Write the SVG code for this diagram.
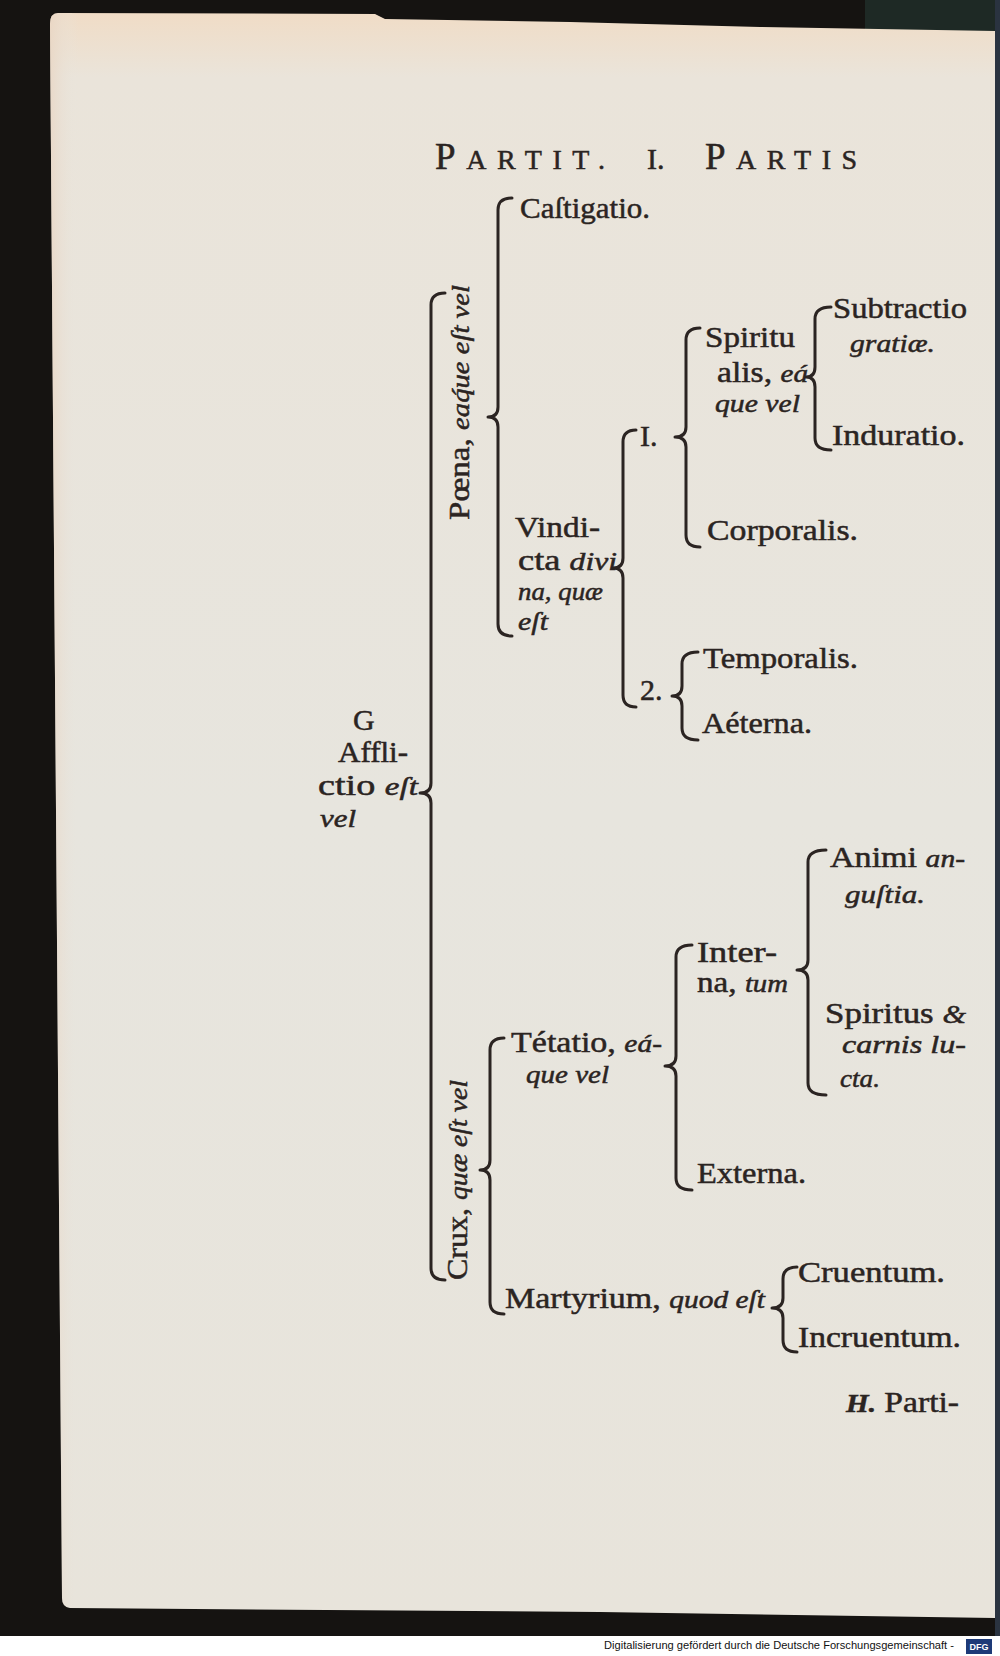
<svg xmlns="http://www.w3.org/2000/svg" width="1000" height="1656" viewBox="0 0 1000 1656">
<defs>
<linearGradient id="paper" x1="0" y1="0" x2="0" y2="1">
<stop offset="0" stop-color="#f0dcc6"/>
<stop offset="0.04" stop-color="#eae4da"/>
<stop offset="0.5" stop-color="#e7e5de"/>
<stop offset="1" stop-color="#e8e4db"/>
</linearGradient>
<linearGradient id="paperL" x1="0" y1="0" x2="1" y2="0">
<stop offset="0" stop-color="#e9d6c4" stop-opacity="0.8"/>
<stop offset="0.03" stop-color="#e8e6df" stop-opacity="0"/>
<stop offset="1" stop-color="#e8e6df" stop-opacity="0"/>
</linearGradient>
<style>
.t{font-family:"Liberation Serif","DejaVu Serif",serif;fill:#2b2422;stroke:#2b2422;stroke-width:0.5;font-size:30px}
.i{font-style:italic;font-size:26px}
.br{fill:none;stroke:#2b2422;stroke-width:3;stroke-linecap:round;stroke-linejoin:round}
.ft{font-family:"Liberation Sans","DejaVu Sans",sans-serif;fill:#111;font-size:11px}
</style>
</defs>

<g id="background">
<rect x="0" y="0" width="1000" height="1656" fill="#151311"/>
<rect x="865" y="0" width="135" height="32" fill="#1e2925"/>
<rect x="995" y="0" width="5" height="1636" fill="#2a3340"/>
<path d="M58,13 L375,14 L385,19 L570,22 L760,27 L995,31 L995,1618 L600,1612 L70,1608 Q62,1607 62,1598 L50,24 Q50,13 58,13 Z" fill="url(#paper)"/>
<path d="M58,13 L375,14 L385,19 L570,22 L760,27 L995,31 L995,1618 L600,1612 L70,1608 Q62,1607 62,1598 L50,24 Q50,13 58,13 Z" fill="url(#paperL)"/>
<rect x="0" y="1636" width="1000" height="20" fill="#ffffff"/>
</g>

<g id="footer">
<text class="ft" x="604" y="1649" textLength="350" lengthAdjust="spacingAndGlyphs">Digitalisierung gefördert durch die Deutsche Forschungsgemeinschaft -</text>
<rect x="966" y="1639" width="26" height="15" fill="#1d3a78"/>
<text x="979" y="1650" text-anchor="middle" font-family="Liberation Sans, sans-serif" font-size="9" font-weight="bold" fill="#ffffff">DFG</text>
</g>

<g id="header">
<text class="t" x="435" y="169" textLength="170" lengthAdjust="spacing"><tspan font-size="37">P</tspan><tspan font-size="28">ARTIT.</tspan></text>
<text class="t" x="647" y="169" font-size="37">I.</text>
<text class="t" x="705" y="169" textLength="152" lengthAdjust="spacing"><tspan font-size="37">P</tspan><tspan font-size="28">ARTIS</tspan></text>
</g>

<g id="connectors">
<path class="br" d="M445,293 Q431,293 431,305 L431,783 Q431,793 420,793 Q431,793 431,803 L431,1268 Q431,1280 445,1280"/>
<path class="br" d="M512,198 Q498,198 498,210 L498,407 Q498,417 488,417 Q498,417 498,427 L498,624 Q498,636 512,636"/>
<path class="br" d="M636,430 Q623,430 623,442 L623,558 Q623,568 613,568 Q623,568 623,578 L623,695 Q623,707 636,707"/>
<path class="br" d="M700,328 Q686,328 686,340 L686,427 Q686,437 675,437 Q686,437 686,447 L686,535 Q686,547 700,547"/>
<path class="br" d="M831,307 Q815,307 815,319 L815,367 Q815,377 806,377 Q815,377 815,387 L815,438 Q815,450 831,450"/>
<path class="br" d="M698,652 Q682,652 682,664 L682,686 Q682,696 672,696 Q682,696 682,706 L682,728 Q682,740 698,740"/>
<path class="br" d="M504,1038 Q490,1038 490,1050 L490,1160 Q490,1170 480,1170 Q490,1170 490,1180 L490,1302 Q490,1314 504,1314"/>
<path class="br" d="M692,945 Q676,945 676,957 L676,1056 Q676,1066 665,1066 Q676,1066 676,1076 L676,1178 Q676,1190 692,1190"/>
<path class="br" d="M826,850 Q808,850 808,862 L808,960 Q808,970 797,970 Q808,970 808,980 L808,1083 Q808,1095 826,1095"/>
<path class="br" d="M797,1267 Q783,1267 783,1279 L783,1298 Q783,1308 772,1308 Q783,1308 783,1318 L783,1340 Q783,1352 797,1352"/>
</g>

<g id="node-afflictio">
<text class="t" x="353" y="730" font-size="26">G</text>
<text class="t" x="338" y="762" textLength="70" lengthAdjust="spacingAndGlyphs">Affli-</text>
<text class="t" x="318" y="795" textLength="100" lengthAdjust="spacingAndGlyphs">ctio <tspan class="i">eſt</tspan></text>
<text class="t i" x="320" y="827" textLength="36" lengthAdjust="spacingAndGlyphs">vel</text>
</g>

<g id="node-poena">
<text class="t" font-size="27" transform="translate(469,520) rotate(-90)" textLength="235" lengthAdjust="spacingAndGlyphs">Pœna, <tspan class="i">eaq́ue eſt vel</tspan></text>
</g>

<g id="node-castigatio">
<text class="t" x="520" y="218" textLength="130" lengthAdjust="spacingAndGlyphs">Caſtigatio.</text>
</g>

<g id="node-vindicta">
<text class="t" x="515" y="537" textLength="85" lengthAdjust="spacingAndGlyphs">Vindi-</text>
<text class="t" x="518" y="570" textLength="99" lengthAdjust="spacingAndGlyphs">cta <tspan class="i">divi</tspan></text>
<text class="t i" x="518" y="600" textLength="85" lengthAdjust="spacingAndGlyphs">na, quæ</text>
<text class="t i" x="518" y="630" textLength="30" lengthAdjust="spacingAndGlyphs">eſt</text>
</g>

<g id="node-1">
<text class="t" x="640" y="446" font-size="24">I.</text>
</g>

<g id="node-spiritualis">
<text class="t" x="705" y="347" textLength="90" lengthAdjust="spacingAndGlyphs">Spiritu</text>
<text class="t" x="717" y="382" textLength="91" lengthAdjust="spacingAndGlyphs">alis, <tspan class="i">eá</tspan></text>
<text class="t i" x="715" y="412" textLength="85" lengthAdjust="spacingAndGlyphs">que vel</text>
</g>

<g id="node-subtractio">
<text class="t" x="833" y="318" textLength="134" lengthAdjust="spacingAndGlyphs">Subtractio</text>
<text class="t i" x="850" y="352" textLength="85" lengthAdjust="spacingAndGlyphs">gratiæ.</text>
</g>

<g id="node-induratio">
<text class="t" x="832" y="445" textLength="133" lengthAdjust="spacingAndGlyphs">Induratio.</text>
</g>

<g id="node-corporalis">
<text class="t" x="707" y="540" textLength="151" lengthAdjust="spacingAndGlyphs">Corporalis.</text>
</g>

<g id="node-2">
<text class="t" x="640" y="700" font-size="24">2.</text>
</g>

<g id="node-temporalis">
<text class="t" x="703" y="668" textLength="155" lengthAdjust="spacingAndGlyphs">Temporalis.</text>
</g>

<g id="node-aeterna">
<text class="t" x="702" y="733" textLength="110" lengthAdjust="spacingAndGlyphs">Aéterna.</text>
</g>

<g id="node-crux">
<text class="t" font-size="28" transform="translate(467,1280) rotate(-90)" textLength="200" lengthAdjust="spacingAndGlyphs">Crux, <tspan class="i">quæ eſt vel</tspan></text>
</g>

<g id="node-tetatio">
<text class="t" x="511" y="1052" textLength="151" lengthAdjust="spacingAndGlyphs">Tétatio, <tspan class="i">eá-</tspan></text>
<text class="t i" x="526" y="1083" textLength="83" lengthAdjust="spacingAndGlyphs">que vel</text>
</g>

<g id="node-interna">
<text class="t" x="697" y="962" textLength="80" lengthAdjust="spacingAndGlyphs">Inter-</text>
<text class="t" x="697" y="992" textLength="91" lengthAdjust="spacingAndGlyphs">na, <tspan class="i">tum</tspan></text>
</g>

<g id="node-animi">
<text class="t" x="830" y="867" textLength="135" lengthAdjust="spacingAndGlyphs">Animi <tspan class="i">an-</tspan></text>
<text class="t i" x="845" y="903" textLength="80" lengthAdjust="spacingAndGlyphs">guſtia.</text>
</g>

<g id="node-spiritus">
<text class="t" x="825" y="1023" textLength="141" lengthAdjust="spacingAndGlyphs">Spiritus <tspan class="i">&amp;</tspan></text>
<text class="t i" x="842" y="1053" textLength="124" lengthAdjust="spacingAndGlyphs">carnis lu-</text>
<text class="t i" x="840" y="1087" textLength="40" lengthAdjust="spacingAndGlyphs">cta.</text>
</g>

<g id="node-externa">
<text class="t" x="697" y="1183" textLength="109" lengthAdjust="spacingAndGlyphs">Externa.</text>
</g>

<g id="node-martyrium">
<text class="t" x="505" y="1308" textLength="260" lengthAdjust="spacingAndGlyphs">Martyrium, <tspan class="i">quod eſt</tspan></text>
</g>

<g id="node-cruentum">
<text class="t" x="798" y="1282" textLength="147" lengthAdjust="spacingAndGlyphs">Cruentum.</text>
</g>

<g id="node-incruentum">
<text class="t" x="798" y="1347" textLength="163" lengthAdjust="spacingAndGlyphs">Incruentum.</text>
</g>

<g id="catchword">
<text class="t" x="846" y="1412" textLength="113" lengthAdjust="spacingAndGlyphs"><tspan class="i" font-weight="bold">H.</tspan> Parti-</text>
</g>
</svg>
